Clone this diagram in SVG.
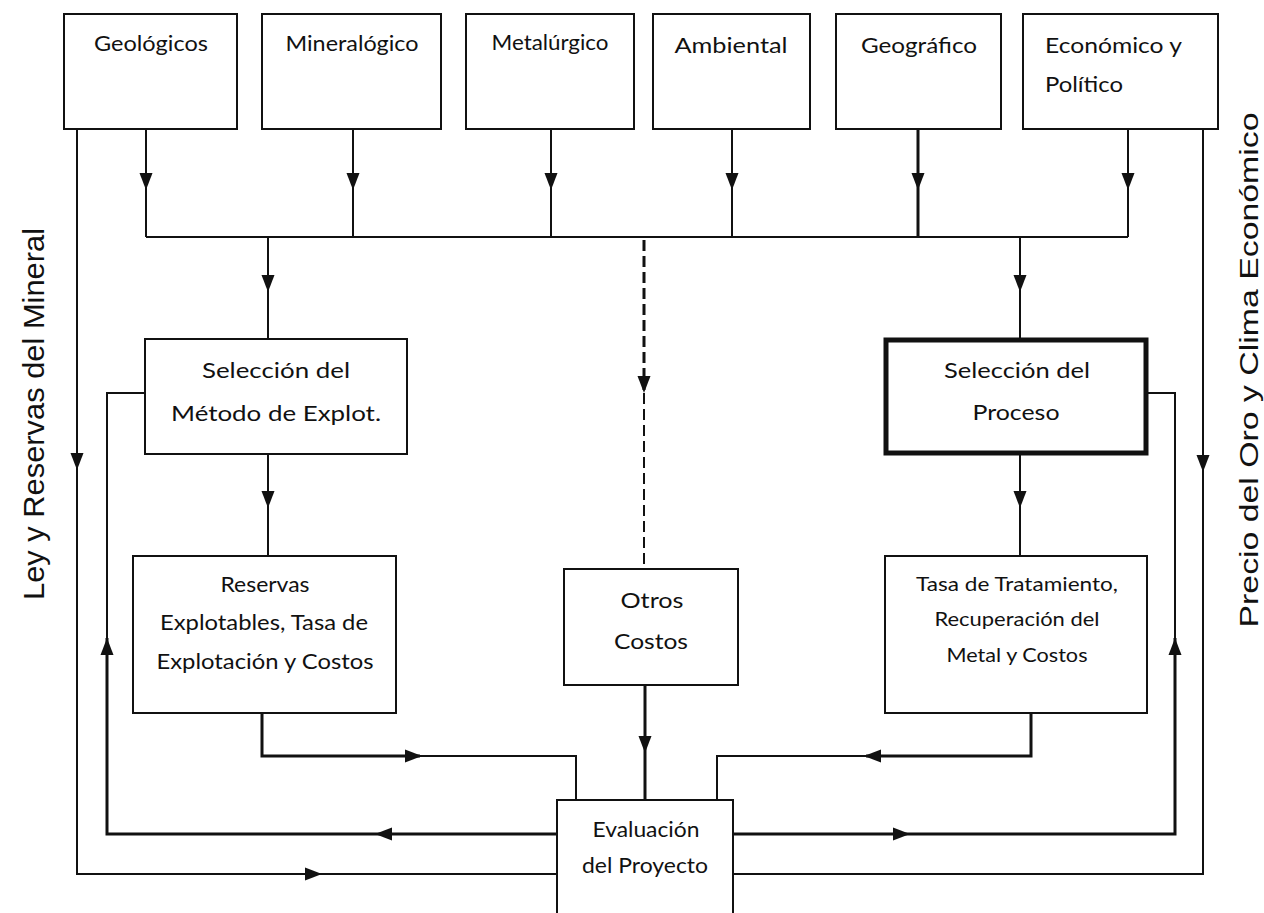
<svg xmlns="http://www.w3.org/2000/svg" width="1264" height="913" viewBox="0 0 1264 913">
<style>
.box{fill:#fff;stroke:#111;stroke-width:2}
.thick{fill:#fff;stroke:#111;stroke-width:5}
.t{font-family:Lato,"Liberation Sans",sans-serif;font-size:21px;fill:#111;text-anchor:middle}
.ts{font-family:Lato,"Liberation Sans",sans-serif;font-size:19px;fill:#111;text-anchor:middle}
.side{font-family:"Liberation Sans",Arial,sans-serif;font-size:29px;fill:#111;text-anchor:middle}
.ln{fill:none;stroke:#111;stroke-width:2}
.lt{fill:none;stroke:#111;stroke-width:3}
.ah{fill:#111}
</style>
<defs>
<path id="ah" d="M0,0 L-6.5,-17 L6.5,-17 Z"/>
</defs>
<rect width="1264" height="913" fill="#fff"/>

<g id="connectors">
<path class="ln" d="M146,129 V237 M353,129 V237 M551,129 V237 M732,129 V237 M1128,129 V237"/>
<path class="lt" d="M918,129 V237"/>
<path class="ln" d="M146,237 H1128"/>
<path class="ln" d="M77,129 V874 H557"/>
<path class="ln" d="M1203,129 V874 H733"/>
<path class="ln" d="M268,237 V339 M268,454 V556"/>
<path class="ln" d="M1020,237 V338 M1020,455 V556"/>
<path class="ln" d="M145,393 H107 V638"/>
<path class="lt" d="M107,638 V834 H557"/>
<path class="ln" d="M1148,393 H1175 V638"/>
<path class="lt" d="M1175,638 V834 H733"/>
<path class="lt" d="M262,713 V756 H420"/>
<path class="ln" d="M420,756 H576 V800"/>
<path class="lt" d="M1031,713 V756 H866"/>
<path class="ln" d="M866,756 H717 V800"/>
<path class="lt" d="M645,685 V800"/>
<path fill="none" stroke="#111" stroke-width="3" stroke-dasharray="11,5" d="M644,240 V390"/>
<path fill="none" stroke="#111" stroke-width="2" stroke-dasharray="11,5" d="M644,393 V569"/>
<g class="ah">
<use href="#ah" transform="translate(146,190)"/>
<use href="#ah" transform="translate(353,190)"/>
<use href="#ah" transform="translate(551,190)"/>
<use href="#ah" transform="translate(732,190)"/>
<use href="#ah" transform="translate(918,190)"/>
<use href="#ah" transform="translate(1128,190)"/>
<use href="#ah" transform="translate(268,292)"/>
<use href="#ah" transform="translate(1020,292)"/>
<use href="#ah" transform="translate(268,508)"/>
<use href="#ah" transform="translate(1020,508)"/>
<use href="#ah" transform="translate(77,470)"/>
<use href="#ah" transform="translate(1203,472)"/>
<use href="#ah" transform="translate(644,393)"/>
<use href="#ah" transform="translate(645,753)"/>
<use href="#ah" transform="translate(107,638) rotate(180)"/>
<use href="#ah" transform="translate(1175,638) rotate(180)"/>
<use href="#ah" transform="translate(422,756) rotate(-90)"/>
<use href="#ah" transform="translate(864,756) rotate(90)"/>
<use href="#ah" transform="translate(375,834) rotate(90)"/>
<use href="#ah" transform="translate(910,834) rotate(-90)"/>
<use href="#ah" transform="translate(322,874) rotate(-90)"/>
</g>
</g>

<g id="geologicos"><rect class="box" x="64" y="14" width="173" height="115"/><text class="t" x="151" y="51" textLength="114" lengthAdjust="spacingAndGlyphs">Geológicos</text></g>
<g id="mineralogico"><rect class="box" x="262" y="14" width="179" height="115"/><text class="t" x="352" y="51" textLength="133" lengthAdjust="spacingAndGlyphs">Mineralógico</text></g>
<g id="metalurgico"><rect class="box" x="466" y="14" width="168" height="115"/><text class="t" x="550" y="50" textLength="117" lengthAdjust="spacingAndGlyphs">Metalúrgico</text></g>
<g id="ambiental"><rect class="box" x="653" y="14" width="157" height="115"/><text class="t" x="731" y="53" textLength="113" lengthAdjust="spacingAndGlyphs">Ambiental</text></g>
<g id="geografico"><rect class="box" x="836" y="14" width="165" height="115"/><text class="t" x="919" y="53" textLength="116" lengthAdjust="spacingAndGlyphs">Geográfico</text></g>
<g id="economico"><rect class="box" x="1023" y="14" width="195" height="115"/><text class="t" x="1045" y="53" style="text-anchor:start" textLength="137" lengthAdjust="spacingAndGlyphs">Económico y</text><text class="t" x="1045" y="92" style="text-anchor:start" textLength="78" lengthAdjust="spacingAndGlyphs">Político</text></g>

<g id="seleccion-metodo"><rect class="box" x="145" y="339" width="262" height="115"/><text class="t" x="276" y="378" textLength="148" lengthAdjust="spacingAndGlyphs">Selección del</text><text class="t" x="276" y="421" textLength="210" lengthAdjust="spacingAndGlyphs">Método de Explot.</text></g>
<g id="reservas"><rect class="box" x="133" y="556" width="263" height="157"/><text class="t" x="265" y="592" textLength="89" lengthAdjust="spacingAndGlyphs">Reservas</text><text class="t" x="264" y="630" textLength="208" lengthAdjust="spacingAndGlyphs">Explotables, Tasa de</text><text class="t" x="265" y="669" textLength="217" lengthAdjust="spacingAndGlyphs">Explotación y Costos</text></g>
<g id="seleccion-proceso"><rect class="thick" x="886" y="340" width="260" height="113"/><text class="t" x="1017" y="378" textLength="146" lengthAdjust="spacingAndGlyphs">Selección del</text><text class="t" x="1016" y="420" textLength="87" lengthAdjust="spacingAndGlyphs">Proceso</text></g>
<g id="tasa"><rect class="box" x="885" y="556" width="262" height="157"/><text class="ts" x="1017" y="591" textLength="202" lengthAdjust="spacingAndGlyphs">Tasa de Tratamiento,</text><text class="ts" x="1017" y="626" textLength="165" lengthAdjust="spacingAndGlyphs">Recuperación del</text><text class="ts" x="1017" y="662" textLength="141" lengthAdjust="spacingAndGlyphs">Metal y Costos</text></g>
<g id="otros"><rect class="box" x="564" y="569" width="174" height="116"/><text class="t" x="652" y="608" textLength="63" lengthAdjust="spacingAndGlyphs">Otros</text><text class="t" x="651" y="649" textLength="74" lengthAdjust="spacingAndGlyphs">Costos</text></g>
<g id="evaluacion"><rect class="box" x="557" y="800" width="176" height="130"/><text class="t" x="646" y="837" textLength="107" lengthAdjust="spacingAndGlyphs">Evaluación</text><text class="t" x="645" y="873" textLength="126" lengthAdjust="spacingAndGlyphs">del Proyecto</text></g>

<g id="label-ley"><text class="side" transform="translate(44,414) rotate(-90)" textLength="372" lengthAdjust="spacingAndGlyphs">Ley y Reservas del Mineral</text></g>
<g id="label-precio"><text class="side" style="font-size:25px" transform="translate(1258,370) rotate(-90)" textLength="515" lengthAdjust="spacingAndGlyphs">Precio del Oro y Clima Económico</text></g>
</svg>
